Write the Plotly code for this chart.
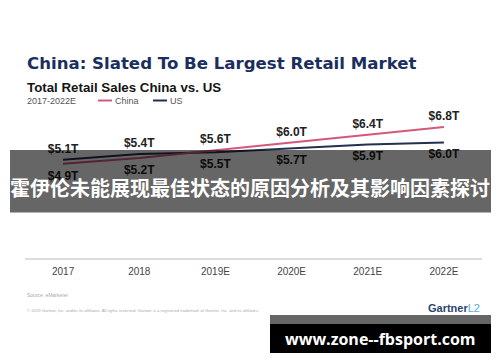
import plotly.graph_objects as go

years = ["2017", "2018", "2019E", "2020E", "2021E", "2022E"]
china = [4.9, 5.2, 5.6, 6.0, 6.4, 6.8]
us = [5.1, 5.4, 5.5, 5.7, 5.9, 6.0]

CHINA_C = "#d4587a"
US_C = "#23304f"
W, H = 500, 362
ML, MR, MT, MB = 25, 18, 104, 104
PW, PH = W - ML - MR, H - MT - MB


def px(x):
    return (x - ML) / PW


def py(y):
    return (H - MB - y) / PH


upper = [max(c, u) for c, u in zip(china, us)]
lower = [min(c, u) for c, u in zip(china, us)]
fmt = lambda v: f"${v:.1f}T"

fig = go.Figure()
fig.add_trace(go.Scatter(x=years, y=us, mode="lines", name="US",
                         line=dict(color=US_C, width=2)))
fig.add_trace(go.Scatter(x=years, y=china, mode="lines", name="China",
                         line=dict(color=CHINA_C, width=2)))
lab_font = dict(family="Liberation Sans", size=12, color="#222222", weight="bold")
fig.add_trace(go.Scatter(x=years, y=upper, mode="markers+text", text=[fmt(v) for v in upper],
                         textposition="top center", marker=dict(size=4.5, opacity=0),
                         textfont=lab_font, hoverinfo="skip", showlegend=False))
fig.add_trace(go.Scatter(x=years, y=lower, mode="markers+text", text=[fmt(v) for v in lower],
                         textposition="bottom center", marker=dict(size=9.5, opacity=0),
                         textfont=lab_font, hoverinfo="skip", showlegend=False))

ann = []
ann.append(dict(text="China: Slated To Be Largest Retail Market", x=px(25), y=py(63),
                xanchor="left", yanchor="middle",
                font=dict(family="DejaVu Sans", size=16.6, color="#1b2f5e", weight="bold")))
ann.append(dict(text="Total Retail Sales China vs. US", x=px(25), y=py(87.5),
                xanchor="left", yanchor="middle",
                font=dict(family="Liberation Sans", size=13.3, color="#151515", weight="bold")))
small = dict(family="Liberation Sans", size=9, color="#555555")
ann.append(dict(text="2017-2022E", x=px(25), y=py(100.5), xanchor="left", yanchor="middle", font=small))
ann.append(dict(text="China", x=px(113), y=py(100.5), xanchor="left", yanchor="middle", font=small))
ann.append(dict(text="US", x=px(168), y=py(100.5), xanchor="left", yanchor="middle", font=small))
ann.append(dict(text="Source: eMarketer", x=px(25), y=py(295), xanchor="left", yanchor="middle",
                font=dict(family="Liberation Sans", size=5, color="#aaaaaa")))
ann.append(dict(text="© 2019 Gartner, Inc. and/or its affiliates. All rights reserved. Gartner is a registered trademark of Gartner, Inc. and its affiliates.",
                x=px(25), y=py(310), xanchor="left", yanchor="middle",
                font=dict(family="Liberation Sans", size=4.2, color="#aaaaaa")))
ann.append(dict(text="<b>Gartner</b><span style='color:#5aa9dc'>L2</span>", x=px(482), y=py(308),
                xanchor="right", yanchor="middle",
                font=dict(family="Liberation Sans", size=11, color="#2c4470")))
ann.append(dict(text="霍伊伦未能展现最佳状态的原因分析及其影响因素探讨", x=px(250), y=py(187),
                xanchor="center", yanchor="middle",
                font=dict(family="Noto Sans CJK SC", size=20, color="#ffffff", weight="bold")))
ann.append(dict(text="www.zone--fbsport.com", x=px(380), y=py(338.5),
                xanchor="center", yanchor="middle",
                font=dict(family="Open Sans", size=16, color="#ffffff", weight="bold")))
for a in ann:
    a.update(xref="paper", yref="paper", showarrow=False)

shapes = [
    dict(type="line", x0=px(98), x1=px(112), y0=py(100.5), y1=py(100.5),
         line=dict(color=CHINA_C, width=2)),
    dict(type="line", x0=px(153), x1=px(167), y0=py(100.5), y1=py(100.5),
         line=dict(color=US_C, width=2)),
    dict(type="rect", x0=px(10), x1=px(491), y0=py(150), y1=py(212.5),
         fillcolor="rgba(0,0,0,0.6)", line=dict(width=0), layer="above"),
    dict(type="rect", x0=px(270), x1=px(491), y0=py(315), y1=py(324),
         fillcolor="rgba(0,0,0,0.6)", line=dict(width=0), layer="above"),
    dict(type="rect", x0=px(270), x1=px(491), y0=py(324), y1=py(353),
         fillcolor="#000000", line=dict(width=0), layer="above"),
]
for s in shapes:
    s.update(xref="paper", yref="paper")

fig.update_layout(
    width=W, height=H, margin=dict(l=ML, r=MR, t=MT, b=MB),
    paper_bgcolor="white", plot_bgcolor="white", showlegend=False,
    annotations=ann, shapes=shapes,
    xaxis=dict(type="category", range=[-0.5, 5.5], showgrid=False, zeroline=False,
               showline=True, linecolor="#dcdcdc", linewidth=2, ticks="",
               ticklabelstandoff=3,
               tickfont=dict(family="Liberation Sans", size=10, color="#444444")),
    yaxis=dict(range=[0, 8], showgrid=False, zeroline=False, showticklabels=False,
               showline=False, ticks=""),
)
fig.write_html("out.html", config={"displayModeBar": False},
               post_script="document.body.style.margin='0';document.body.style.overflow='hidden';")
